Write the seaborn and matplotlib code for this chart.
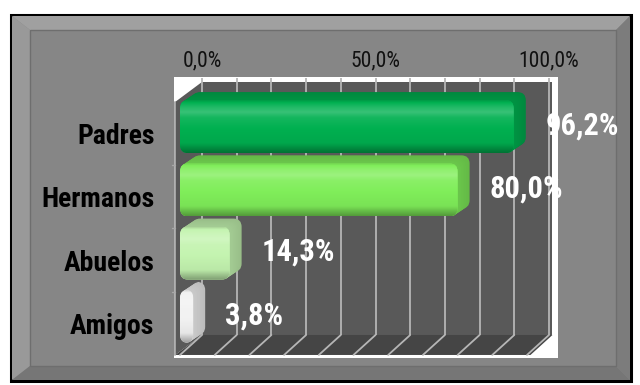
import numpy as np
import matplotlib
matplotlib.use("Agg")
import matplotlib.pyplot as plt
import seaborn as sns
from matplotlib import font_manager as fm
from matplotlib.patches import Polygon, Rectangle, FancyBboxPatch
from matplotlib.colors import to_rgb

# ---- data ----
categories = ["Padres", "Hermanos", "Abuelos", "Amigos"]
values = [96.2, 80.0, 14.3, 3.8]
value_labels = ["96,2%", "80,0%", "14,3%", "3,8%"]
tick_values = [0, 50, 100]
tick_labels = ["0,0%", "50,0%", "100,0%"]
bar_colors = ["#00b050", "#80ee5a", "#c4f4b0", "#f2f2f2"]

sns.set_theme(style="white")

# pick a narrow sans face if one is installed
available = {f.name for f in fm.fontManager.ttflist}
narrow_faces = ["Liberation Sans Narrow", "DejaVu Sans Condensed",
                "Roboto Condensed", "Open Sans Condensed"]
face = next((n for n in narrow_faces if n in available), None)
if face is None:
    face, size_k = "Liberation Sans", 0.86
elif face == "DejaVu Sans Condensed":
    size_k = 0.86
else:
    size_k = 1.0
plt.rcParams["font.family"] = [face, "DejaVu Sans"]

W, H = 640, 385
fig = plt.figure(figsize=(6.4, 3.85), dpi=100)
fig.patch.set_facecolor("white")

# ---- bevelled grey frame (pixel coordinates) ----
bg = fig.add_axes([0, 0, 1, 1], zorder=0)
bg.set_xlim(0, W)
bg.set_ylim(H, 0)
bg.axis("off")
bg.add_patch(Rectangle((11, 15), 620, 366, fc="#868686", ec="black", lw=2.2))
ox0, oy0, ox1, oy1 = 12, 16, 630, 380
ix0, iy0, ix1, iy1 = 30, 30, 616, 366
bevel = [
    ([(ox0, oy0), (ox1, oy0), (ix1, iy0), (ix0, iy0)], "#a0a0a0"),
    ([(ox0, oy0), (ix0, iy0), (ix0, iy1), (ox0, oy1)], "#999999"),
    ([(ox0, oy1), (ix0, iy1), (ix1, iy1), (ox1, oy1)], "#767676"),
    ([(ox1, oy0), (ox1, oy1), (ix1, iy1), (ix1, iy0)], "#7c7c7c"),
]
for pts, c in bevel:
    bg.add_patch(Polygon(pts, closed=True, fc=c, ec="none"))
bg.add_patch(Rectangle((ix0, iy0), ix1 - ix0, iy1 - iy0, fc="none",
                       ec="#6e6e6e", lw=1.0))

# ---- plot area ----
PX_X = 3.47          # pixels per percent
PX_Y = 63.25         # pixels per category
left_px, right_px, top_px, bot_px = 174, 558, 77, 358
ax = fig.add_axes([left_px / W, 1 - bot_px / H,
                   (right_px - left_px) / W, (bot_px - top_px) / H], zorder=1)
ax.set_facecolor("white")

DX = 22 / PX_X       # depth of the chart box
DY = -20 / PX_Y
BDX = 12 / PX_X      # depth of each bar
BDY = -8 / PX_Y

# ---- bars (front faces from seaborn) ----
sns.barplot(x=values, y=categories, hue=categories, palette=bar_colors,
            legend=False, orient="h", width=0.84, saturation=1,
            edgecolor="none", ax=ax, zorder=6)
bar_patches = [p for p in ax.patches if isinstance(p, Rectangle)]

# ---- walls, floor and gridlines ----
wall = "#595959"
floor = "#454545"
grid_c = "#b6b6b6"
fx = -1.4            # front-left edge of the side wall

ax.add_patch(Rectangle((DX, -0.5 + DY), 101, 4.0, fc=wall, ec="none", zorder=1))
ax.add_patch(Polygon([(fx, -0.5), (DX, -0.5 + DY), (DX, 3.5 + DY), (fx, 3.5)],
                     closed=True, fc=wall, ec="none", zorder=1))
ax.add_patch(Polygon([(fx, 3.5), (DX, 3.5 + DY), (101 + DX, 3.5 + DY), (101, 3.5)],
                     closed=True, fc=floor, ec="none", zorder=2))
for g in np.arange(0, 101, 10):
    ax.plot([g + DX, g + DX], [-0.5 + DY - 0.07, 3.5 + DY], color=grid_c,
            lw=1.3, zorder=3, solid_capstyle="butt")
    ax.plot([g + DX, g], [3.5 + DY, 3.5], color=grid_c, lw=1.3, zorder=3)
ax.plot([fx, fx], [-0.5, 3.5], color="#a8a8a8", lw=1.3, zorder=3)
for b in [0.5, 1.5, 2.5]:
    ax.plot([fx - 1.0, fx], [b, b], color="#a8a8a8", lw=1.0, zorder=3,
            clip_on=False)

aspect = PX_X / PX_Y
rs = 2.4
prof_t = [0.0, 0.06, 0.14, 0.24, 0.34, 0.55, 0.82, 0.92, 1.0]
prof_v = [-0.18, 0.0, 0.12, 0.22, 0.08, 0.0, -0.05, -0.22, -0.35]


def shade(rgb, k):
    rgb = np.asarray(rgb)
    if k >= 0:
        return rgb + (1 - rgb) * k
    return rgb * (1 + k)


for p in bar_patches:
    if p.get_width() <= 0:
        continue
    h = p.get_height()
    idx = int(round(p.get_y() + h / 2))
    p.set_y(p.get_y() - 0.11)
    x0, y0, w = p.get_x(), p.get_y(), p.get_width()
    x1, y1 = x0 + w, y0 + h
    base = to_rgb(bar_colors[idx])

    # extruded body (top and side faces)
    steps = 10
    for s in range(steps, 0, -1):
        f = s / steps
        body = FancyBboxPatch((x0 + BDX * f, y0 + BDY * f), w, h,
                              boxstyle=f"round,pad=0,rounding_size={rs}",
                              mutation_aspect=aspect,
                              fc=shade(base, -0.22 + 0.06 * (1 - f)),
                              ec="none", zorder=4)
        ax.add_patch(body)

    # rounded front face with vertical shading
    front = FancyBboxPatch((x0, y0), w, h,
                           boxstyle=f"round,pad=0,rounding_size={rs}",
                           mutation_aspect=aspect, fc="none", ec="none",
                           transform=ax.transData)
    ax.add_patch(front)
    p.set_clip_path(front)
    t = np.linspace(0, 1, 120)
    k = np.interp(t, prof_t, prof_v)
    img = np.array([shade(base, kk) for kk in k])[:, None, :]
    im = ax.imshow(img, extent=(x0, x1, y1, y0), origin="upper",
                   aspect="auto", zorder=7, interpolation="bilinear")
    im.set_clip_path(front)

    ax.text(values[idx] + 9.3, idx - 0.13, value_labels[idx], color="white",
            fontsize=22 * size_k, fontweight="bold", ha="left", va="center",
            zorder=10, clip_on=False)

# ---- axes ----
ax.set_xlim((left_px - 180) / PX_X, (right_px - 180) / PX_X)
ax.set_ylim(3 + (bot_px - (133.6 + 3 * PX_Y)) / PX_Y, -(133.6 - top_px) / PX_Y)
ax.xaxis.tick_top()
ax.set_xticks([v + DX for v in tick_values])
ax.set_xticklabels(tick_labels)
ax.set_yticks(range(len(categories)))
ax.set_yticklabels(categories, fontweight="bold")
ax.tick_params(axis="x", length=0, pad=4, labelsize=15.5 * size_k,
               labelcolor="#111111")
ax.tick_params(axis="y", length=0, pad=14, labelsize=20 * size_k,
               labelcolor="black")
ax.set_xlabel("")
ax.set_ylabel("")
for s in ax.spines.values():
    s.set_visible(False)
ax.grid(False)

fig.savefig("out.png", dpi=100, facecolor="white")
